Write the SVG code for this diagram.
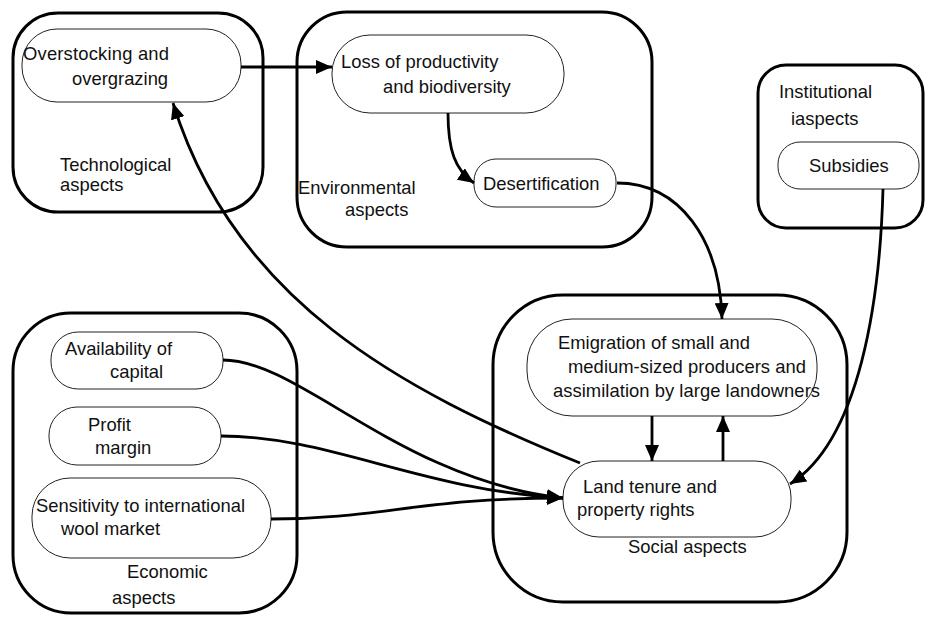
<svg xmlns="http://www.w3.org/2000/svg" width="925" height="617" viewBox="0 0 925 617">
<style>
.box{fill:none;stroke:#000;stroke-width:3}
.node{fill:#fff;stroke:#222;stroke-width:1}
.t{font-family:"Liberation Sans",Arial,sans-serif;font-size:18.4px;fill:#111}
.c{fill:none;stroke:#000;stroke-width:2.8}
</style>
<defs>
<marker id="ah" markerUnits="userSpaceOnUse" markerWidth="16" markerHeight="14" viewBox="0 0 16 14" refX="16" refY="7" orient="auto">
<path d="M0,0 L16,7 L0,14 Z" fill="#000"/>
</marker>
</defs>
<rect width="925" height="617" fill="#fff"/>

<g id="technological">
<rect class="box" x="13" y="13" width="250" height="199" rx="45" ry="45"/>
<text class="t" x="60" y="171">Technological</text>
<text class="t" x="60" y="191">aspects</text>
</g>
<g id="environmental">
<rect class="box" x="297" y="12" width="355" height="235" rx="50" ry="50"/>
<text class="t" x="298" y="194">Environmental</text>
<text class="t" x="345" y="216">aspects</text>
</g>
<g id="institutional">
<rect class="box" x="758" y="65" width="165" height="163" rx="28" ry="28"/>
<text class="t" x="779" y="98">Institutional</text>
<text class="t" x="791" y="125">iaspects</text>
</g>
<g id="economic">
<rect class="box" x="13" y="313" width="284" height="300" rx="58" ry="58"/>
<text class="t" x="127" y="578">Economic</text>
<text class="t" x="112" y="604">aspects</text>
</g>
<g id="social">
<rect class="box" x="493" y="295" width="354" height="307" rx="70" ry="70"/>
<text class="t" x="628" y="553">Social aspects</text>
</g>

<g id="overstocking">
<rect class="node" x="22" y="29" width="219" height="73" rx="35" ry="35"/>
<text class="t" x="23" y="60" textLength="146" lengthAdjust="spacing">Overstocking and</text>
<text class="t" x="72" y="85">overgrazing</text>
</g>
<g id="loss">
<rect class="node" x="332" y="35" width="232" height="78" rx="38" ry="38"/>
<text class="t" x="341" y="68">Loss of productivity</text>
<text class="t" x="383" y="93">and biodiversity</text>
</g>
<g id="desertification">
<rect class="node" x="474" y="159" width="142" height="48" rx="22" ry="22"/>
<text class="t" x="483" y="190">Desertification</text>
</g>
<g id="subsidies">
<rect class="node" x="778" y="142" width="141" height="47" rx="22" ry="22"/>
<text class="t" x="809" y="172">Subsidies</text>
</g>
<g id="availability">
<rect class="node" x="51" y="332" width="172" height="57" rx="27" ry="27"/>
<text class="t" x="65" y="355">Availability of</text>
<text class="t" x="110" y="378">capital</text>
</g>
<g id="profit">
<rect class="node" x="49" y="407" width="172" height="58" rx="28" ry="28"/>
<text class="t" x="88" y="431">Profit</text>
<text class="t" x="95" y="454">margin</text>
</g>
<g id="sensitivity">
<rect class="node" x="32" y="478" width="239" height="80" rx="38" ry="38"/>
<text class="t" x="36" y="512" textLength="209" lengthAdjust="spacing">Sensitivity to international</text>
<text class="t" x="61" y="535">wool market</text>
</g>
<g id="emigration">
<rect class="node" x="527" y="319" width="290" height="97" rx="45" ry="45"/>
<text class="t" x="558" y="349" textLength="192" lengthAdjust="spacing">Emigration of small and</text>
<text class="t" x="568" y="373" textLength="238" lengthAdjust="spacing">medium-sized producers and</text>
<text class="t" x="553" y="397" textLength="267" lengthAdjust="spacing">assimilation by large landowners</text>
</g>
<g id="landtenure">
<rect class="node" x="563" y="461" width="228" height="76" rx="36" ry="36"/>
<text class="t" x="583" y="493" textLength="134" lengthAdjust="spacing">Land tenure and</text>
<text class="t" x="577" y="516">property rights</text>
</g>

<g id="connectors">
<path class="c" d="M241,67 L332,67" marker-end="url(#ah)"/>
<path class="c" d="M448,113 C448,150 455,170 474,183" marker-end="url(#ah)"/>
<path class="c" d="M617,183 C680,183 720,240 722,319" marker-end="url(#ah)"/>
<path class="c" d="M883,189 C880,300 860,440 790,484" marker-end="url(#ah)"/>
<path class="c" d="M580,463 C400,390 234,300 173,103" marker-end="url(#ah)"/>
<path class="c" d="M223,360 C300,360 400,480 563,498" marker-end="url(#ah)"/>
<path class="c" d="M221,436 C330,436 420,490 563,498" marker-end="url(#ah)"/>
<path class="c" d="M271,519 C380,519 420,498 563,498" marker-end="url(#ah)"/>
<path class="c" d="M652,416 L652,461" marker-end="url(#ah)"/>
<path class="c" d="M723,461 L723,416" marker-end="url(#ah)"/>
</g>
</svg>
